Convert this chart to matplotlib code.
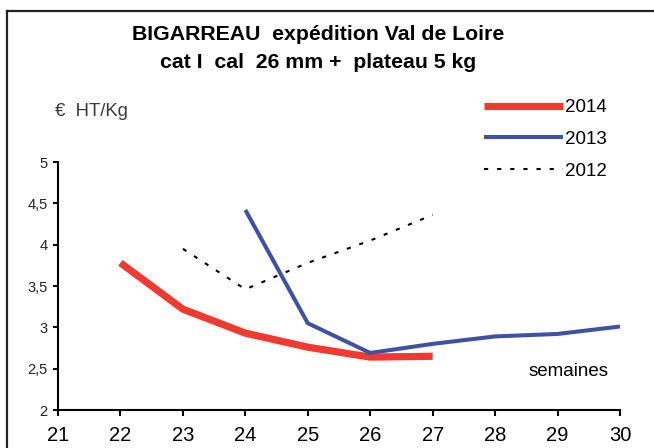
import matplotlib
matplotlib.use("Agg")
import matplotlib.pyplot as plt
from matplotlib.lines import Line2D

plt.rcParams['font.family'] = ['Liberation Sans', 'DejaVu Sans']

weeks_2014 = [22, 23, 24, 25, 26, 27]
prices_2014 = [3.78, 3.22, 2.93, 2.76, 2.64, 2.65]

weeks_2013 = [24, 25, 26, 27, 28, 29, 30]
prices_2013 = [4.42, 3.05, 2.69, 2.80, 2.89, 2.92, 3.01]

weeks_2012 = [23, 24, 25, 26, 27]
prices_2012 = [3.95, 3.46, 3.78, 4.05, 4.36]

xticks = [21, 22, 23, 24, 25, 26, 27, 28, 29, 30]
yticks = [2, 2.5, 3, 3.5, 4, 4.5, 5]
ytick_labels = ["2", "2,5", "3", "3,5", "4", "4,5", "5"]

W, H = 654, 448
fig = plt.figure(figsize=(W / 100, H / 100), dpi=100)
ax = fig.add_axes([58 / W, 1 - 410 / H, (620 - 58) / W, (410 - 162) / H])

red = "#EE3A2F"
blue = "#3F51A2"

ax.plot(weeks_2014, prices_2014, color=red, lw=5.2, solid_capstyle='butt',
        solid_joinstyle='round', label="2014", zorder=3)
ax.plot(weeks_2013, prices_2013, color=blue, lw=2.9, solid_capstyle='butt',
        solid_joinstyle='round', label="2013", zorder=4)
ax.plot(weeks_2012, prices_2012, color="black", lw=1.5,
        linestyle=(0, (2.0, 4.3)), label="2012", zorder=2)

ax.set_xlim(21, 30)
ax.set_ylim(2, 5)
ax.set_xticks(xticks)
ax.set_xticklabels([str(x) for x in xticks], fontsize=14.5)
ax.set_yticks(yticks)
ax.set_yticklabels(ytick_labels, fontsize=10.5, color="#222222")
ax.tick_params(axis='x', direction='out', length=4.3, width=1.5, pad=7)
ax.tick_params(axis='y', direction='out', length=3.6, width=1.5, pad=4)
for s in ['top', 'right']:
    ax.spines[s].set_visible(False)
for s in ['left', 'bottom']:
    ax.spines[s].set_linewidth(1.5)
    ax.spines[s].set_color('black')
ax.patch.set_alpha(0)

leg = ax.legend(loc='upper left', bbox_to_anchor=(484 / W, 1 - 99 / H),
                bbox_transform=fig.transFigure, frameon=False, fontsize=13.5,
                handlelength=4.2, handletextpad=0.1, labelspacing=0.78,
                borderpad=0, borderaxespad=0)

fig.text(318 / W, 1 - 35 / H, "BIGARREAU  expédition Val de Loire",
         ha='center', va='center', fontsize=15.3, fontweight='bold')
fig.text(318 / W, 1 - 63 / H, "cat I  cal  26 mm +  plateau 5 kg",
         ha='center', va='center', fontsize=15.3, fontweight='bold')
fig.text(55 / W, 1 - 112 / H, "€  HT/Kg", ha='left', va='center',
         fontsize=13.3, color="#3a3a3a")
fig.text(609 / W, 1 - 371 / H, "semaines", ha='right', va='center',
         fontsize=13.5)

# outer frame (left and top edges)
fig.add_artist(Line2D([7 / W, 7 / W], [0, 1 - 11 / H], transform=fig.transFigure,
                      color="#222222", lw=1.6))
fig.add_artist(Line2D([7 / W, 1], [1 - 11 / H, 1 - 11 / H], transform=fig.transFigure,
                      color="#222222", lw=1.6))

fig.savefig("out.png", dpi=100)
